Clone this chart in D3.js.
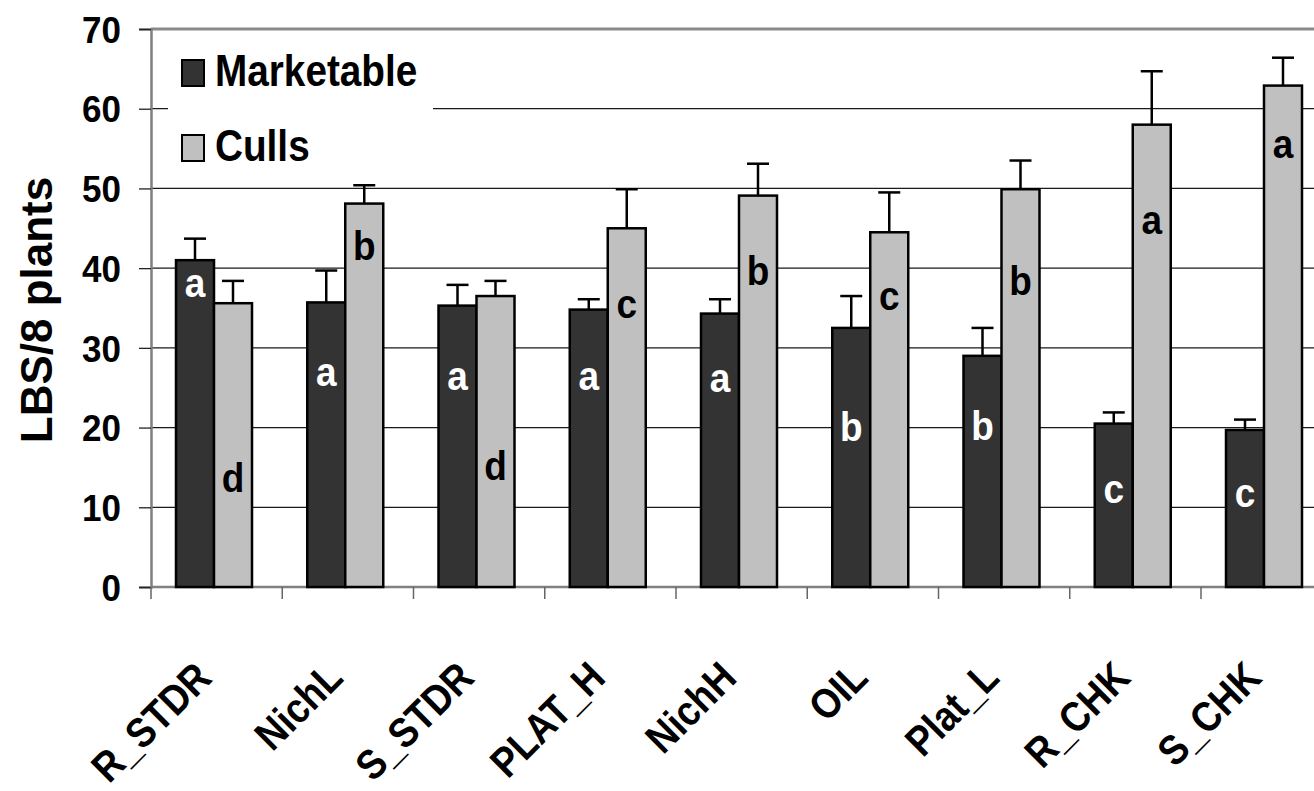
<!DOCTYPE html>
<html>
<head>
<meta charset="utf-8">
<script src="https://cdn.jsdelivr.net/npm/d3@7"></script>
<style>
  body { margin: 0; background: #fff; }
  text { font-family: "Liberation Sans", Arial, sans-serif; font-weight: bold; }
</style>
</head>
<body>
<svg id="chart" width="1314" height="791"></svg>
<script>
// data
const categories = ["R_STDR", "NichL", "S_STDR", "PLAT_H", "NichH", "OIL", "Plat_L", "R_CHK", "S_CHK"];
const marketable = [41.0, 35.7, 35.3, 34.8, 34.3, 32.5, 29.0, 20.5, 19.7];
const marketableErr = [2.7, 4.0, 2.6, 1.3, 1.8, 4.0, 3.5, 1.4, 1.3];
const culls = [35.6, 48.1, 36.5, 45.0, 49.1, 44.5, 49.9, 58.0, 62.9];
const cullsErr = [2.8, 2.3, 1.9, 4.9, 4.0, 5.0, 3.6, 6.7, 3.5];
const marketableLetters = ["a", "a", "a", "a", "a", "b", "b", "c", "c"];
const marketableLetterAt = [36.4, 25.2, 24.7, 24.7, 24.5, 18.3, 18.4, 10.5, 10.0];
const cullsLetters = ["d", "b", "d", "c", "b", "c", "b", "a", "a"];
const cullsLetterAt = [11.9, 41.0, 13.4, 33.8, 37.9, 34.8, 36.6, 44.3, 53.8];
const yTicks = [0, 10, 20, 30, 40, 50, 60, 70];
const seriesNames = ["Marketable", "Culls"];
const seriesColors = ["#333333", "#c0c0c0"];
const letterColors = ["#ffffff", "#000000"];

const svg = d3.select("#chart");

const plotLeft = 151, plotTop = 29, plotBottom = 587;
const catWidth = 131.25;

const y = d3.scaleLinear().domain([0, 70]).range([plotBottom, plotTop]);
const x = d3.scaleBand()
  .domain(categories)
  .range([plotLeft, plotLeft + catWidth * categories.length])
  .padding(0);
const xSub = d3.scaleBand().domain(seriesNames).range([25, 101]).padding(0);

// squeeze a text horizontally, the source font is narrow
function condense(sel, k) {
  sel.each(function () {
    const w = this.getComputedTextLength();
    d3.select(this).attr("textLength", w * k).attr("lengthAdjust", "spacingAndGlyphs");
  });
}

// gridlines
svg.append("g")
  .selectAll("line")
  .data(yTicks.filter(d => d > 0 && d < 70))
  .join("line")
  .attr("x1", plotLeft)
  .attr("x2", 1314)
  .attr("y1", d => y(d))
  .attr("y2", d => y(d))
  .attr("stroke", "#1a1a1a")
  .attr("stroke-width", 1.2);

// top frame
svg.append("line")
  .attr("x1", plotLeft).attr("x2", 1314)
  .attr("y1", y(70)).attr("y2", y(70))
  .attr("stroke", "#8a8a8a")
  .attr("stroke-width", 3);

// y axis
const yAxis = d3.axisLeft(y).tickValues(yTicks).tickSize(12).tickPadding(18).tickFormat(d3.format("d"));
const gy = svg.append("g").attr("transform", `translate(${plotLeft},0)`).call(yAxis);
gy.select(".domain").attr("stroke", "#808080").attr("stroke-width", 2.5);
gy.selectAll(".tick line").attr("stroke", "#222").attr("stroke-width", 1.3);
gy.selectAll(".tick text")
  .attr("font-size", 35)
  .attr("fill", "#000")
  .attr("dy", "0.36em")
  .attr("transform", "scale(1,1.05)")
  .style("font-family", "'Liberation Sans', Arial, sans-serif")
  .style("font-weight", "bold");

// x axis
const boundaries = d3.range(categories.length + 1).map(i => plotLeft + catWidth * i);
svg.append("line")
  .attr("x1", plotLeft).attr("x2", 1314)
  .attr("y1", plotBottom).attr("y2", plotBottom)
  .attr("stroke", "#808080")
  .attr("stroke-width", 2.5);
svg.append("g")
  .selectAll("line")
  .data(boundaries)
  .join("line")
  .attr("x1", d => d).attr("x2", d => d)
  .attr("y1", plotBottom).attr("y2", plotBottom + 12)
  .attr("stroke", "#666")
  .attr("stroke-width", 1.5);

svg.append("g")
  .selectAll("text")
  .data(categories)
  .join("text")
  .attr("transform", d => `translate(${x(d) + x.bandwidth() / 2 - 3},${680}) rotate(-45)`)
  .attr("text-anchor", "end")
  .attr("font-size", 42)
  .attr("fill", "#000")
  .text(d => d)
  .call(condense, 0.88);

// y title
svg.append("text")
  .attr("transform", `translate(52,310) rotate(-90)`)
  .attr("text-anchor", "middle")
  .attr("font-size", 44)
  .attr("fill", "#000")
  .text("LBS/8 plants");

// bars
const series = [
  { name: "Marketable", values: marketable, err: marketableErr, letters: marketableLetters, letterAt: marketableLetterAt },
  { name: "Culls", values: culls, err: cullsErr, letters: cullsLetters, letterAt: cullsLetterAt }
];

series.forEach((s, si) => {
  const g = svg.append("g");
  const rows = categories.map((c, i) => ({ c, v: s.values[i], e: s.err[i], l: s.letters[i], la: s.letterAt[i] }));
  const cx = d => x(d.c) + xSub(s.name) + xSub.bandwidth() / 2;

  // error bars (upper only)
  g.selectAll("line.err")
    .data(rows)
    .join("line")
    .attr("class", "err")
    .attr("x1", cx).attr("x2", cx)
    .attr("y1", d => y(d.v)).attr("y2", d => y(d.v + d.e))
    .attr("stroke", "#000")
    .attr("stroke-width", 2.5);
  g.selectAll("line.cap")
    .data(rows)
    .join("line")
    .attr("class", "cap")
    .attr("x1", d => cx(d) - 11).attr("x2", d => cx(d) + 11)
    .attr("y1", d => y(d.v + d.e)).attr("y2", d => y(d.v + d.e))
    .attr("stroke", "#000")
    .attr("stroke-width", 2.5);

  g.selectAll("rect")
    .data(rows)
    .join("rect")
    .attr("x", d => x(d.c) + xSub(s.name))
    .attr("y", d => y(d.v))
    .attr("width", xSub.bandwidth())
    .attr("height", d => y(0) - y(d.v))
    .attr("fill", seriesColors[si])
    .attr("stroke", "#000")
    .attr("stroke-width", 2.5);

  g.selectAll("text")
    .data(rows)
    .join("text")
    .attr("transform", d => `translate(${cx(d)},${y(d.la)}) scale(1,1.1)`)
    .attr("text-anchor", "middle")
    .attr("font-size", 37)
    .attr("fill", letterColors[si])
    .text(d => d.l);
});

// legend
const legend = svg.append("g");
legend.append("rect")
  .attr("x", 168).attr("y", 31)
  .attr("width", 265).attr("height", 148)
  .attr("fill", "#fff");
const legendRows = legend.selectAll("g")
  .data(seriesNames)
  .join("g")
  .attr("transform", (d, i) => `translate(182,${60 + i * 75})`);
legendRows.append("rect")
  .attr("width", 22).attr("height", 26)
  .attr("fill", (d, i) => seriesColors[i])
  .attr("stroke", "#000")
  .attr("stroke-width", 2);
legendRows.append("text")
  .attr("x", 33)
  .attr("y", 26)
  .attr("font-size", 44)
  .attr("fill", "#000")
  .text(d => d)
  .call(condense, 0.88);
</script>
</body>
</html>
